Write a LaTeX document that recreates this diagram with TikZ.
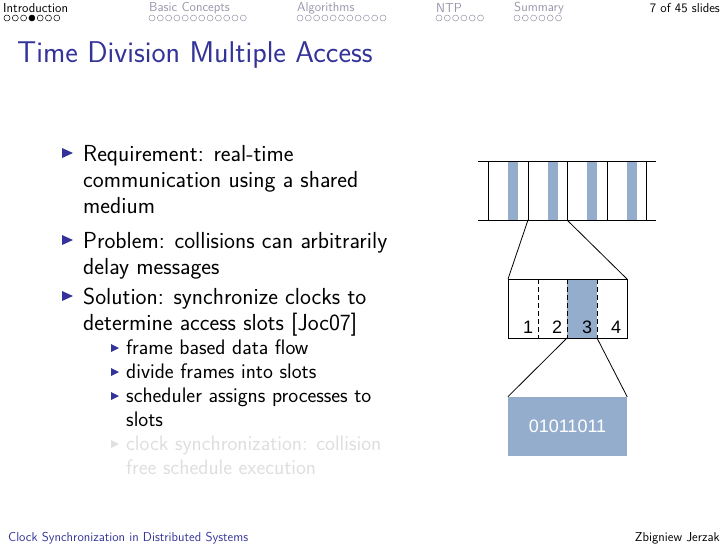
\documentclass[tikz,border=0pt]{standalone}
\usepackage{tikz}
\usepackage{fontspec}
\newfontfamily\arialf{Liberation Sans}
\definecolor{struct}{RGB}{51,51,153}
\definecolor{bar}{RGB}{149,173,205}
\definecolor{navgray}{RGB}{150,150,170}
\begin{document}
\begin{tikzpicture}[x=1pt,y=-1pt,font=\sffamily,
  nav/.style={anchor=west,inner sep=0,font=\sffamily\fontsize{13}{13}\selectfont,text=navgray},
  body/.style={anchor=base west,inner sep=0,font=\sffamily\fontsize{23.2}{26}\selectfont},
  sub/.style={anchor=base west,inner sep=0,font=\sffamily\fontsize{21}{24}\selectfont},
  frm/.style={line width=0.8pt},
  slab/.style={font=\arialf\fontsize{18}{18}\selectfont,inner sep=0}]
\useasboundingbox (0,0) rectangle (728,546);
% headline
\node[nav,text=black] (s1) at (3,8) {Introduction};
\node[nav] (s2) at (149,8) {Basic Concepts};
\node[nav] (s3) at (297,8) {Algorithms};
\node[nav] (s4) at (436,8) {NTP};
\node[nav] (s5) at (514,8) {Summary};
\node[nav,anchor=east,text=black] (pg) at (720,8) {7 of 45 slides};
\foreach \i in {0,...,6}{\draw[line width=0.5pt] (7+\i*8.3,18) circle (3);}
\fill (7+3*8.3,18) circle (3);
\foreach \i in {0,...,11}{\draw[navgray,line width=0.5pt] (152+\i*8.3,18) circle (3);}
\foreach \i in {0,...,10}{\draw[navgray,line width=0.5pt] (300+\i*8.3,18) circle (3);}
\foreach \i in {0,...,5}{\draw[navgray,line width=0.5pt] (439+\i*8.3,18) circle (3);}
\foreach \i in {0,...,5}{\draw[navgray,line width=0.5pt] (517+\i*8.3,18) circle (3);}
% title
\node[anchor=west,inner sep=0,text=struct,font=\sffamily\fontsize{30}{30}\selectfont] (title) at (17,55) {Time Division Multiple Access};
% bullets
\foreach \y in {153,240,296}{\fill[struct] (62,\y-5) -- (73,\y) -- (62,\y+5) -- cycle;}
\foreach \y in {348,372,396}{\fill[struct] (111,\y-4) -- (119,\y) -- (111,\y+4) -- cycle;}
\fill[black!12] (111,440) -- (119,444) -- (111,448) -- cycle;
\node[body] (b1a) at (83,161) {Requirement: real-time};
\node[body] (b1b) at (83,187) {communication using a shared};
\node[body] (b1c) at (83,213) {medium};
\node[body] (b2a) at (83,248) {Problem: collisions can arbitrarily};
\node[body] (b2b) at (83,274) {delay messages};
\node[body] (b3a) at (83,304) {Solution: synchronize clocks to};
\node[body] (b3b) at (83,330) {determine access slots [Joc07]};
\node[sub] (c1) at (126,354) {frame based data flow};
\node[sub] (c2) at (126,378) {divide frames into slots};
\node[sub] (c3) at (126,402) {scheduler assigns processes to};
\node[sub] (c3b) at (126,426) {slots};
\node[sub,text=black!13] (c4) at (126,450) {clock synchronization: collision};
\node[sub,text=black!13] (c4b) at (126,474) {free schedule execution};
% diagram top frame
\foreach \x in {508,548,587,627}{\fill[bar] (\x,161) rectangle (\x+10,220);}
\draw[frm] (478,161) -- (656,161) (478,220) -- (656,220);
\foreach \x in {488,528,567,607,646}{\draw[frm] (\x,161) -- (\x,220);}
\coordinate (tl) at (528,220); \coordinate (tr) at (567,220);
% middle box
\fill[bar] (567,279) rectangle (597,338);
\draw[frm] (508,279) rectangle (627,338);
\coordinate (ml) at (508,279); \coordinate (mr) at (627,279);
\draw[frm] (tl) -- (ml) (tr) -- (mr);
\foreach \x in {538,567,597}{\draw[frm,dashed,dash pattern=on 5pt off 3pt] (\x,279) -- (\x,338);}
\node[slab] (n1) at (528,327) {1};
\node[slab] (n2) at (557,327) {2};
\node[slab] (n3) at (587,327) {3};
\node[slab] (n4) at (616,327) {4};
% bottom box
\node[fill=bar,minimum width=119pt,minimum height=59pt,inner sep=0,text=white,font=\arialf\fontsize{18}{18}\selectfont] (data) at (567.5,426.5) {01011011};
\draw[frm] (567,338) -- (data.north west) (597,338) -- (data.north east);
% footer
\node[anchor=west,inner sep=0,text=struct,font=\sffamily\fontsize{12.9}{12.9}\selectfont] (f1) at (8,538) {Clock Synchronization in Distributed Systems};
\node[anchor=east,inner sep=0,font=\sffamily\fontsize{12.9}{12.9}\selectfont] (f2) at (720,538) {Zbigniew Jerzak};
\end{tikzpicture}
\end{document}
